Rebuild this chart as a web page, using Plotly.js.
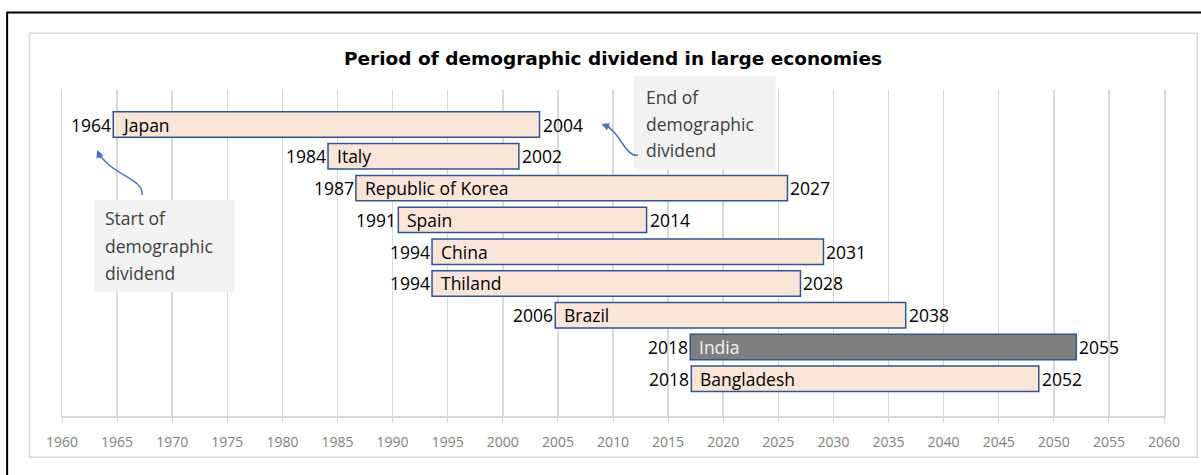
<!DOCTYPE html>
<html>
<head>
<meta charset="utf-8">
<script src="https://cdn.plot.ly/plotly-3.0.1.min.js"></script>
<style>
  body { margin: 0; background: #fff; }
  #chart { width: 1201px; height: 475px; }
</style>
</head>
<body>
<div id="chart"></div>
<script>
const countries = ['Japan', 'Italy', 'Republic of Korea', 'Spain', 'China', 'Thiland', 'Brazil', 'India', 'Bangladesh'];
const startYear = [1964, 1984, 1987, 1991, 1994, 1994, 2006, 2018, 2018];
const endYear = [2004, 2002, 2027, 2014, 2031, 2028, 2038, 2055, 2052];
// bar extents as they sit on the axis in the source (not quite the labelled years)
const barFrom = [1964.65, 1984.14, 1986.67, 1990.52, 1993.58, 1993.58, 2004.76, 2017.01, 2017.11];
const barTo = [2003.33, 2001.46, 2025.83, 2013.05, 2029.10, 2027.01, 2036.56, 2052.04, 2048.64];
const highlight = 'India';

const rows = countries.map((c, i) => i);
const labelFont = { family: 'Open Sans, sans-serif', size: 17.5, color: '#000' };
const noteFont = { family: 'Open Sans, sans-serif', size: 17.5, color: '#404040' };

const trace = {
    type: 'bar',
    orientation: 'h',
    y: rows,
    base: barFrom,
    x: barTo.map((v, i) => v - barFrom[i]),
    width: 0.8,
    marker: {
        color: countries.map(c => c === highlight ? '#7f7f7f' : '#fbe5d6'),
        line: { color: '#2f5597', width: 1.5 }
    },
    hoverinfo: 'none'
};

const annotations = [];
countries.forEach((c, i) => {
    annotations.push({
        x: barFrom[i], y: i, xref: 'x', yref: 'y', text: c, showarrow: false,
        xanchor: 'left', xshift: 7,
        font: Object.assign({}, labelFont, { color: c === highlight ? '#f2f2f2' : '#000' })
    });
    annotations.push({
        x: barFrom[i], y: i, xref: 'x', yref: 'y', text: String(startYear[i]), showarrow: false,
        xanchor: 'right', xshift: 0, font: labelFont
    });
    annotations.push({
        x: barTo[i], y: i, xref: 'x', yref: 'y', text: String(endYear[i]), showarrow: false,
        xanchor: 'left', xshift: 1, font: labelFont
    });
});

// callout texts
const startNote = ['Start of', 'demographic', 'dividend'];
const endNote = ['End of', 'demographic', 'dividend'];
startNote.forEach((t, k) => {
    annotations.push({
        x: 0.0375, y: 0.6071 - k * 0.0844, xref: 'paper', yref: 'paper', text: t,
        showarrow: false, xanchor: 'left', yanchor: 'middle', font: noteFont
    });
});
endNote.forEach((t, k) => {
    annotations.push({
        x: 0.5285, y: 0.9785 - k * 0.0814, xref: 'paper', yref: 'paper', text: t,
        showarrow: false, xanchor: 'left', yanchor: 'middle', font: noteFont
    });
});

// arrowheads
annotations.push({
    x: 0.0319, y: 0.8158, xref: 'paper', yref: 'paper', text: '', showarrow: true,
    ax: 4, ay: 10, arrowhead: 2, arrowsize: 1, arrowwidth: 1.5, arrowcolor: '#4472c4'
});
annotations.push({
    x: 0.4895, y: 0.8956, xref: 'paper', yref: 'paper', text: '', showarrow: true,
    ax: 10, ay: 4, arrowhead: 2, arrowsize: 1, arrowwidth: 1.5, arrowcolor: '#4472c4'
});

const shapes = [
    // outer frame (left and top edges only visible)
    { type: 'path', xref: 'paper', yref: 'paper', path: 'M -0.0498,-0.5 L -0.0498,1.238 L 1.2,1.238',
      line: { color: '#000', width: 2 } },
    // chart area border
    { type: 'rect', xref: 'paper', yref: 'paper', x0: -0.0294, x1: 1.0302, y0: -0.1268, y1: 1.1741,
      line: { color: '#d9d9d9', width: 1.5 }, layer: 'below' },
    // callout boxes
    { type: 'rect', xref: 'paper', yref: 'paper', x0: 0.0291, x1: 0.157, y0: 0.3807, y1: 0.6623,
      fillcolor: '#f2f2f2', line: { width: 0 }, layer: 'above' },
    { type: 'rect', xref: 'paper', yref: 'paper', x0: 0.519, x1: 0.6475, y0: 0.7565, y1: 1.043,
      fillcolor: '#f2f2f2', line: { width: 0 }, layer: 'above' },
    // curved arrows
    { type: 'path', xref: 'paper', yref: 'paper',
      path: 'M 0.0726,0.6776 C 0.0749,0.7298 0.0432,0.739 0.0332,0.8097',
      line: { color: '#4472c4', width: 1.5 } },
    { type: 'path', xref: 'paper', yref: 'paper',
      path: 'M 0.5226,0.80 C 0.5105,0.7943 0.5069,0.874 0.4914,0.894',
      line: { color: '#4472c4', width: 1.5 } }
];

const layout = {
    width: 1201,
    height: 475,
    margin: { l: 62.4, r: 36.5, t: 90, b: 59.3 },
    paper_bgcolor: '#fff',
    plot_bgcolor: '#fff',
    showlegend: false,
    title: {
        text: '<b>Period of demographic dividend in large economies</b>',
        x: 0.5, xref: 'paper', y: 0.876, yanchor: 'middle',
        font: { family: 'DejaVu Sans, sans-serif', size: 18.5, color: '#000' }
    },
    xaxis: {
        range: [1960, 2060],
        dtick: 5,
        tick0: 1960,
        showgrid: true,
        gridcolor: '#d9d9d9',
        gridwidth: 1.5,
        showline: true,
        linecolor: '#d9d9d9',
        linewidth: 1.5,
        zeroline: false,
        ticks: 'outside',
        ticklen: 5,
        tickcolor: '#d9d9d9',
        ticklabelstandoff: 8,
        tickfont: { family: 'Open Sans, sans-serif', size: 14, color: '#7f7f7f' }
    },
    yaxis: {
        range: [9.17, -1.087],
        showgrid: false,
        zeroline: false,
        showticklabels: false,
        showline: true,
        mirror: true,
        linecolor: '#d9d9d9',
        linewidth: 1.5
    },
    shapes: shapes,
    annotations: annotations
};

Plotly.newPlot('chart', [trace], layout, { displayModeBar: false, staticPlot: true });
</script>
</body>
</html>
